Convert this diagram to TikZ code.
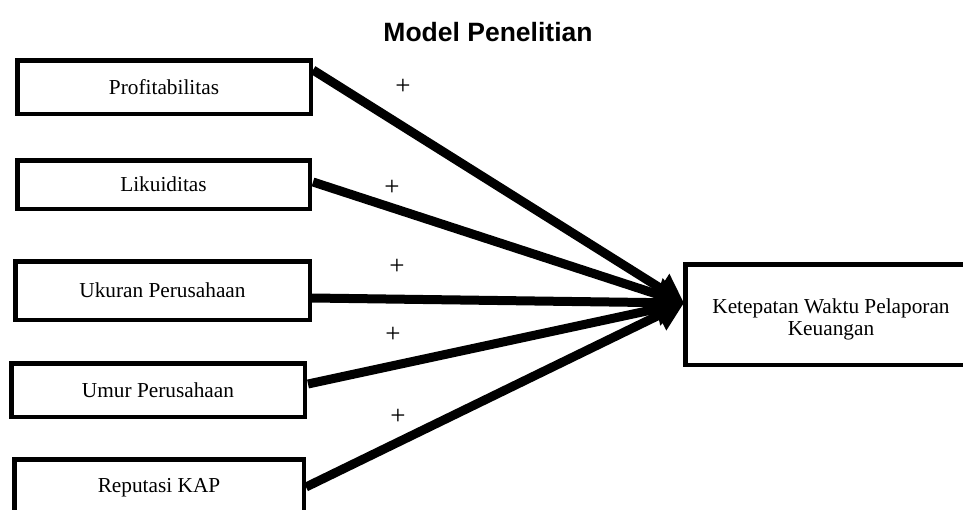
\documentclass[tikz,border=0pt]{standalone}
\usepackage{fontspec}
\setmainfont{Liberation Serif}
\newfontfamily\titlefont{Liberation Sans}
\usetikzlibrary{arrows.meta}
\begin{document}
\begin{tikzpicture}[x=1pt,y=-1pt,
  varbox/.style={draw=black,line width=4.5pt,rectangle,inner sep=0pt,align=center,font=\fontsize{21.3}{24}\selectfont},
  conn/.style={line width=9pt,-{Triangle[length=28pt,width=32pt]}},
  plus/.style={font=\fontsize{27}{30}\selectfont,inner sep=0pt}]
\useasboundingbox (0,0) rectangle (963,509);
\node[font=\titlefont\bfseries\fontsize{26.5}{30}\selectfont] (title) at (488,32) {Model Penelitian};
\node[varbox,minimum width=293.5pt,minimum height=53.5pt] (p) at (164,87) {Profitabilitas};
\node[varbox,minimum width=292.5pt,minimum height=48.5pt] (l) at (163.5,184.5) {Likuiditas};
\node[varbox,minimum width=294.5pt,minimum height=58.5pt] (u) at (162.5,290.5) {Ukuran Perusahaan};
\node[varbox,minimum width=293.5pt,minimum height=53.5pt] (m) at (158,390) {Umur Perusahaan};
\node[varbox,minimum width=289.5pt,minimum height=57.5pt] (r) at (159,488) {Reputasi KAP};
\node[varbox,minimum width=291.5pt,minimum height=100.5pt] (k) at (831,314.5) {\raisebox{-10pt}[0pt][0pt]{\begin{tabular}{@{}c@{}}Ketepatan Waktu Pelaporan\\[-2pt]Keuangan\end{tabular}}};
\coordinate (ps) at (313,70);
\coordinate (ls) at (313,182);
\coordinate (us) at (312,298);
\coordinate (ms) at (308,384);
\coordinate (rs) at (306,487);
\coordinate (kt) at (684,303);
\draw[conn] (ps) -- (kt);
\draw[conn] (ls) -- (kt);
\draw[conn] (us) -- (kt);
\draw[conn] (ms) -- (kt);
\draw[conn] (rs) -- (kt);
\node[plus] (p1) at (403,87) {+};
\node[plus] (p2) at (392,188) {+};
\node[plus] (p3) at (397,267) {+};
\node[plus] (p4) at (393,335) {+};
\node[plus] (p5) at (398,417) {+};
\end{tikzpicture}
\end{document}
